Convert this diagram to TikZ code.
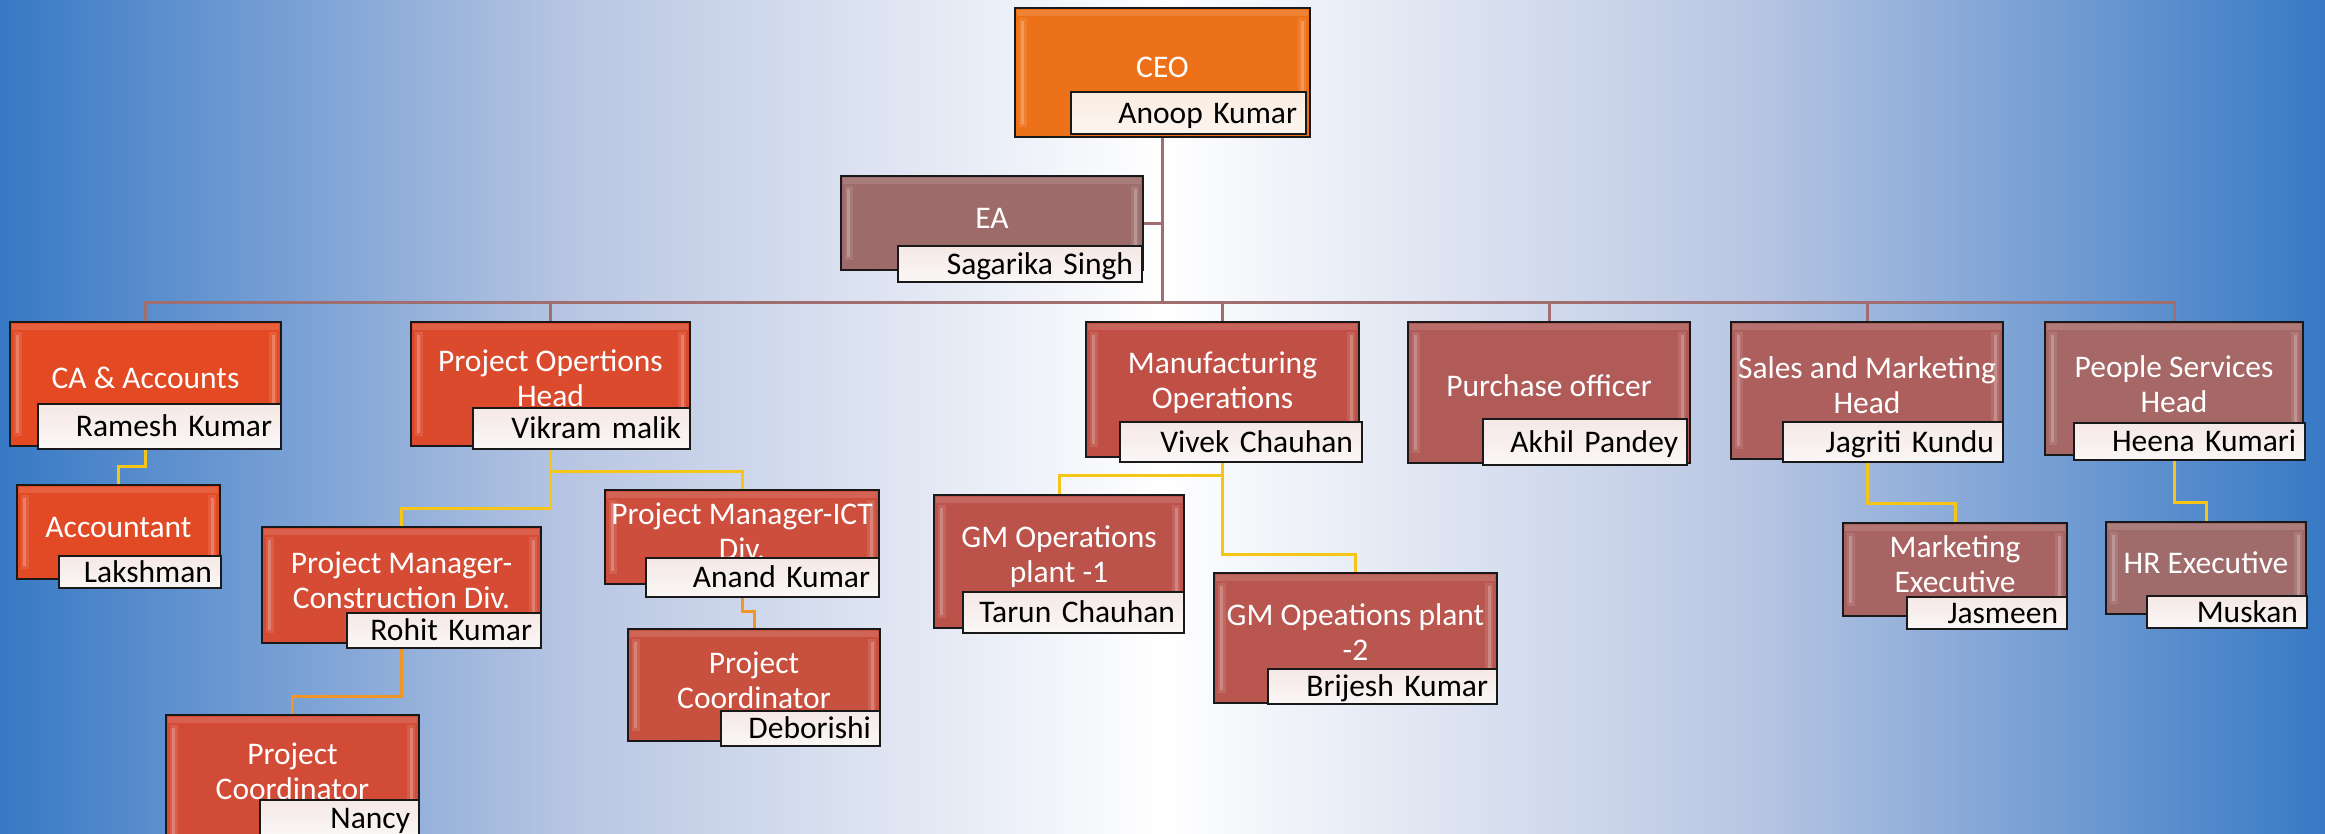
\documentclass[tikz,border=0pt]{standalone}
\usepackage{fontspec}
\setmainfont{Carlito}
\usetikzlibrary{calc}
\definecolor{bgblue}{RGB}{55,121,197}
\definecolor{bgmid}{RGB}{186,199,227}
\definecolor{cCEO}{RGB}{236,113,24}
\definecolor{cEA}{RGB}{158,107,107}
\definecolor{cCA}{RGB}{227,74,35}
\definecolor{cPOH}{RGB}{220,74,46}
\definecolor{cACC}{RGB}{226,74,37}
\definecolor{cPMC}{RGB}{213,75,52}
\definecolor{cPMI}{RGB}{206,78,61}
\definecolor{cPCD}{RGB}{200,80,63}
\definecolor{cPCN}{RGB}{210,75,54}
\definecolor{cMFG}{RGB}{192,80,70}
\definecolor{cGMa}{RGB}{188,83,75}
\definecolor{cGMb}{RGB}{184,86,79}
\definecolor{cPUR}{RGB}{176,91,87}
\definecolor{cSAL}{RGB}{173,95,93}
\definecolor{cMKT}{RGB}{168,100,99}
\definecolor{cPPL}{RGB}{165,104,102}
\definecolor{cHR}{RGB}{160,108,107}
\definecolor{nameA}{RGB}{245,232,229}
\definecolor{nameB}{RGB}{250,247,247}
\definecolor{creamA}{RGB}{250,236,224}
\definecolor{creamB}{RGB}{252,245,239}
\definecolor{linemauve}{RGB}{160,110,110}
\definecolor{lineyellow}{RGB}{245,197,24}
\definecolor{lineorange}{RGB}{240,150,40}
\tikzset{
  obox/.style={draw=black!90, line width=2pt, rectangle, inner sep=0pt},
  nbox/.style={draw=black!90, line width=1.8pt, rectangle, inner ysep=0pt, inner xsep=9pt,
    align=right, text=black, font=\fontsize{31.5}{36}\selectfont,
    text height=25pt, text depth=5pt, top color=nameA, bottom color=nameB},
  creambox/.style={top color=creamA, bottom color=creamB},
  ttl/.style={text=white, align=center, font=\fontsize{31.5}{35}\selectfont, inner sep=0pt},
  bevel/.style={fill=white, fill opacity=0.22},
  softbevel/.style={fill=white, fill opacity=0.1},
  topglow/.style={fill=white, fill opacity=0.12},
  mline/.style={draw=linemauve, line width=3pt},
  yline/.style={draw=lineyellow, line width=3pt},
  oline/.style={draw=lineorange, line width=3pt}
}
\newcommand{\orgbox}[6]{%
  \node[obox, fill=#6, minimum width={#4-#2}, minimum height={#5-#3}] (#1) at ({(#2+#4)/2},{(#3+#5)/2}) {};
  \fill[topglow] ({#2+2},{#3+2}) rectangle ({#4-2},{#3+8});
  \fill[softbevel] ({#2+4},{#3+10}) rectangle ({#2+12},{#5-10});
  \fill[bevel] ({#2+6},{#3+13}) rectangle ({#2+9},{#5-13});
  \fill[softbevel] ({#4-12},{#3+10}) rectangle ({#4-4},{#5-10});
  \fill[bevel] ({#4-9},{#3+13}) rectangle ({#4-6},{#5-13});
}
\newcommand{\namebox}[7][]{%
  \pgfmathsetmacro\nbw{#5-#3-18}%
  \node[nbox, #1, minimum width={#5-#3}, minimum height={#6-#4}, text width=\nbw pt] (#2) at ({(#3+#5)/2},{(#4+#6)/2}) {#7};
}
\begin{document}
\begin{tikzpicture}[x=1pt, y=-1pt]
\useasboundingbox (0,0) rectangle (2325,833);
\clip (0,0) rectangle (2325,833);
% background
\shade[left color=bgblue, right color=white, middle color=bgmid] (0,0) rectangle (1163,833);
\shade[left color=white, right color=bgblue, middle color=bgmid] (1162,0) rectangle (2325,833);

% CEO
\orgbox{ceo}{1015}{8}{1310}{137}{cCEO}
\node[ttl] (ceo-t) at (1162.5,67) {CEO};
\namebox[creambox]{anoop}{1071}{92}{1306}{134}{Anoop Kumar}
% EA
\orgbox{ea}{841}{176}{1143}{270}{cEA}
\node[ttl] (ea-t) at (992,218) {EA};
\namebox{sagarika}{898}{246}{1142}{282}{Sagarika Singh}
% heads
\orgbox{ca}{10}{322}{281}{446}{cCA}
\node[ttl] (ca-t) at (145.5,378) {CA \& Accounts};
\namebox{ramesh}{38}{404}{281}{449}{Ramesh Kumar}

\orgbox{poh}{411}{322}{690}{446}{cPOH}
\node[ttl] (poh-t) at (550.5,378) {Project Opertions\\Head};
\namebox{vikram}{473}{408}{690}{449}{Vikram malik}

\orgbox{mfg}{1086}{322}{1359}{457}{cMFG}
\node[ttl] (mfg-t) at (1222.5,383) {Manufacturing\\Operations};
\namebox{vivek}{1120}{422}{1362}{462}{Vivek Chauhan}

\orgbox{pur}{1408}{322}{1690}{463}{cPUR}
\node[ttl] (pur-t) at (1549,386) {Purchase officer};
\namebox{akhil}{1483}{419}{1687}{465}{Akhil Pandey}

\orgbox{sal}{1731}{322}{2003}{459}{cSAL}
\node[ttl] (sal-t) at (1867,385) {Sales and Marketing\\Head};
\namebox{jagriti}{1783}{422}{2003}{462}{Jagriti Kundu}

\orgbox{ppl}{2045}{322}{2303}{455}{cPPL}
\node[ttl] (ppl-t) at (2174,384) {People Services\\Head};
\namebox{heena}{2074}{423}{2305}{460}{Heena Kumari}

% level 3
\orgbox{acc}{17}{485}{220}{579}{cACC}
\node[ttl] (acc-t) at (118.5,527) {Accountant};
\namebox{lak}{59}{556}{221}{588}{Lakshman}

\orgbox{pmc}{262}{527}{541}{643}{cPMC}
\node[ttl] (pmc-t) at (401.5,580) {Project Manager-\\Construction Div.};
\namebox{rohit}{347}{613}{541}{648}{Rohit Kumar}

\orgbox{pmi}{605}{490}{879}{584}{cPMI}
\node[ttl] (pmi-t) at (742,531) {Project Manager-ICT\\Div.};
\namebox{anand}{646}{558}{879}{597}{Anand Kumar}

\orgbox{pcd}{628}{629}{880}{741}{cPCD}
\node[ttl] (pcd-t) at (754,680) {Project\\Coordinator};
\namebox{deb}{721}{711}{880}{746}{Deborishi}

\orgbox{pcn}{166}{715}{419}{860}{cPCN}
\node[ttl] (pcn-t) at (292.5,771) {Project\\Coordinator};
\namebox{nancy}{260}{800}{419}{836}{Nancy}

\orgbox{gma}{934}{495}{1184}{628}{cGMa}
\node[ttl] (gma-t) at (1059,557) {GM Operations\\plant -1};
\namebox{tarun}{963}{592}{1184}{633}{Tarun Chauhan}

\orgbox{gmb}{1214}{573}{1497}{703}{cGMb}
\node[ttl] (gmb-t) at (1355.5,632) {GM Opeations plant\\-2};
\namebox{brijesh}{1268}{669}{1497}{704}{Brijesh Kumar}

\orgbox{mkt}{1843}{523}{2067}{616}{cMKT}
\node[ttl] (mkt-t) at (1955,564) {Marketing\\Executive};
\namebox{jas}{1907}{597}{2067}{629}{Jasmeen}

\orgbox{hr}{2106}{522}{2306}{614}{cHR}
\node[ttl] (hr-t) at (2206,563) {HR Executive};
\namebox{musk}{2147}{596}{2307}{628}{Muskan}

% connectors
\coordinate (bus) at (1162.5,302);
\draw[mline] (ceo.south) -- (bus);
\draw[mline] (ea.east) -- (ea.east -| ceo.south);
\foreach \c in {ca,poh,mfg,pur,sal,ppl} \draw[mline] (bus) -| (\c.north);

\draw[yline] (ca |- ramesh.south) -- ++(0,17) -| (acc.north);
\draw[yline] (poh |- vikram.south) -- ++(0,59) -| (pmc.north);
\draw[yline] (poh |- vikram.south) -- ++(0,22) -| (pmi.north);
\draw[oline] (pmc |- rohit.south) -- ++(0,48) -| (pcn.north);
\draw[oline] (pmi |- anand.south) -- ++(0,14) -| (pcd.north);
\draw[yline] (mfg |- vivek.south) -- ++(0,92) -| (gmb.north);
\draw[yline] (mfg |- vivek.south) -- ++(0,13) -| (gma.north);
\draw[yline] (sal |- jagriti.south) -- ++(0,41) -| (mkt.north);
\draw[yline] (ppl |- heena.south) -- ++(0,42) -| (hr.north);
\end{tikzpicture}
\end{document}
